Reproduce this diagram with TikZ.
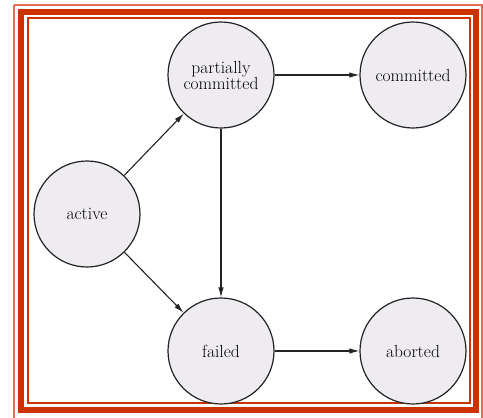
\documentclass[tikz,border=0pt]{standalone}
\usetikzlibrary{arrows.meta}
\definecolor{frame}{RGB}{204,51,0}
\definecolor{frameli}{RGB}{225,110,80}
\definecolor{statefill}{RGB}{239,236,241}
\definecolor{stroke}{RGB}{35,35,35}
\begin{document}
\begin{tikzpicture}[x=1pt,y=-1pt,
  state/.style={circle,draw=stroke,line width=1.2pt,fill=statefill,minimum size=106pt,inner sep=0pt,align=center,font=\fontsize{17.5}{19}\selectfont,text=black},
  trans/.style={draw=stroke,line width=1.1pt,-{Latex[length=10pt,width=5.5pt]}}]
\useasboundingbox (0,0) rectangle (483,418);
\fill[white] (0,0) rectangle (483,418);
% frame
\draw[frameli,line width=1.8pt] (14,5) -- (482,5) -- (482,420) (14,5) -- (14,420);
\draw[frame,line width=6pt] (21,12) rectangle (476,410);
\draw[frame,line width=2pt] (28,18) rectangle (470,403);
% states
\node[state] (pc) at (221,75) {partially\\[-3pt]committed};
\node[state] (c) at (413,75) {committed};
\node[state] (a) at (87,214) {active};
\node[state] (f) at (221,351) {failed};
\node[state] (ab) at (413,351) {aborted};
% transitions
\draw[trans] (a) -- (pc);
\draw[trans] (a) -- (f);
\draw[trans] (pc) -- (c);
\draw[trans] (pc) -- (f);
\draw[trans] (f) -- (ab);
\end{tikzpicture}
\end{document}
